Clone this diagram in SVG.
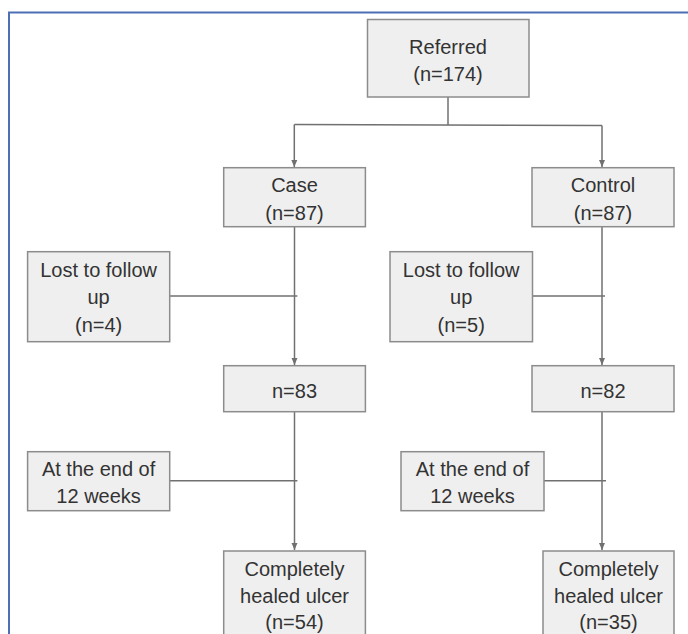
<svg xmlns="http://www.w3.org/2000/svg" width="688" height="634" viewBox="0 0 688 634">
<defs>
<style>
.box{fill:#efefef;stroke:#8c8c8c;stroke-width:1.5}
.t{font-family:"Liberation Sans",Arial,sans-serif;font-size:20px;fill:#333;text-anchor:middle}
.ln{fill:none;stroke:#707070;stroke-width:1.5}
</style>
<marker id="ah" markerWidth="8" markerHeight="8" refX="7" refY="4" orient="auto" markerUnits="userSpaceOnUse" viewBox="0 0 8 8">
<path d="M0,1 L7,4 L0,7 Z" fill="#707070"/>
</marker>
</defs>
<rect width="688" height="634" fill="#ffffff"/>
<path d="M9,700 L9,12.5 L700,12.5" fill="none" stroke="#4d70b5" stroke-width="2"/>

<g id="connectors">
<path class="ln" d="M448,97 L448,125"/>
<path class="ln" d="M294.3,124.5 L602,125.5"/>
<path class="ln" d="M294.3,124.5 L294.3,167" marker-end="url(#ah)"/>
<path class="ln" d="M602,125.5 L602,167" marker-end="url(#ah)"/>
<path class="ln" d="M294.5,226.7 L294.5,365" marker-end="url(#ah)"/>
<path class="ln" d="M602,226.7 L602,365" marker-end="url(#ah)"/>
<path class="ln" d="M169.7,296 L297.4,296"/>
<path class="ln" d="M532.5,296 L605,296"/>
<path class="ln" d="M294.5,411.7 L294.5,550" marker-end="url(#ah)"/>
<path class="ln" d="M602,411.7 L602,550" marker-end="url(#ah)"/>
<path class="ln" d="M169.7,480.7 L297.4,480.7"/>
<path class="ln" d="M544,480.7 L606,480.7"/>
</g>

<g id="referred">
<rect class="box" x="367.5" y="19.5" width="161.5" height="77.5"/>
<text class="t" x="448" y="53.5">Referred</text>
<text class="t" x="448" y="80.5">(n=174)</text>
</g>
<g id="case">
<rect class="box" x="223.7" y="167.7" width="141.7" height="59"/>
<text class="t" x="294.5" y="192">Case</text>
<text class="t" x="294.5" y="220">(n=87)</text>
</g>
<g id="control">
<rect class="box" x="532" y="167.7" width="142" height="59"/>
<text class="t" x="603" y="192">Control</text>
<text class="t" x="603" y="220">(n=87)</text>
</g>
<g id="lost-case">
<rect class="box" x="27.6" y="251.7" width="142.1" height="90"/>
<text class="t" x="98.6" y="277">Lost to follow</text>
<text class="t" x="98.6" y="304">up</text>
<text class="t" x="98.6" y="332">(n=4)</text>
</g>
<g id="lost-control">
<rect class="box" x="390" y="251.7" width="142.5" height="90"/>
<text class="t" x="461.2" y="277">Lost to follow</text>
<text class="t" x="461.2" y="304">up</text>
<text class="t" x="461.2" y="332">(n=5)</text>
</g>
<g id="n83">
<rect class="box" x="223.7" y="365.7" width="141.7" height="46"/>
<text class="t" x="294.5" y="397.5">n=83</text>
</g>
<g id="n82">
<rect class="box" x="532" y="365.7" width="142" height="46"/>
<text class="t" x="603" y="397.5">n=82</text>
</g>
<g id="end-case">
<rect class="box" x="27.6" y="451.7" width="142.1" height="59"/>
<text class="t" x="98.6" y="475.5">At the end of</text>
<text class="t" x="98.6" y="503">12 weeks</text>
</g>
<g id="end-control">
<rect class="box" x="401" y="451.7" width="143" height="59"/>
<text class="t" x="472.5" y="475.5">At the end of</text>
<text class="t" x="472.5" y="503">12 weeks</text>
</g>
<g id="healed-case">
<rect class="box" x="223.7" y="551" width="141.7" height="100"/>
<text class="t" x="294.5" y="576">Completely</text>
<text class="t" x="294.5" y="602.5">healed ulcer</text>
<text class="t" x="294.5" y="628.5">(n=54)</text>
</g>
<g id="healed-control">
<rect class="box" x="543" y="551" width="131" height="100"/>
<text class="t" x="608.5" y="576">Completely</text>
<text class="t" x="608.5" y="602.5">healed ulcer</text>
<text class="t" x="608.5" y="628.5">(n=35)</text>
</g>
</svg>
